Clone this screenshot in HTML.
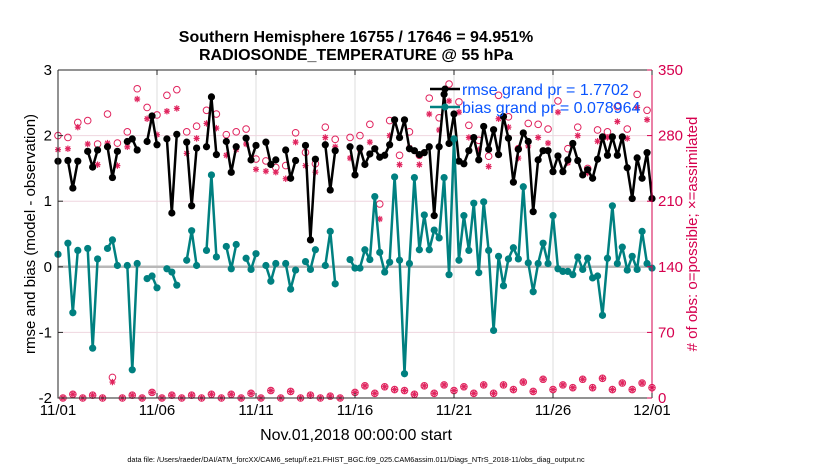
<!DOCTYPE html>
<html><head><meta charset="utf-8"><style>
html,body{margin:0;padding:0;background:#fff;}
svg{display:block;font-family:"Liberation Sans",Arial,sans-serif;}
</style></head><body>
<svg id="chart" width="830" height="470" viewBox="0 0 830 470" xmlns="http://www.w3.org/2000/svg">
<text x="356" y="42" text-anchor="middle" font-size="16" font-weight="bold">Southern Hemisphere 16755 / 17646 = 94.951%</text>
<text x="356" y="60" text-anchor="middle" font-size="16" font-weight="bold">RADIOSONDE_TEMPERATURE @ 55 hPa</text>
<g id="grid"></g>
<g id="marks"></g>
<g id="axes"></g>
<text transform="translate(35,234) rotate(-90)" text-anchor="middle" font-size="15">rmse and bias (model - observation)</text>
<text transform="translate(697,234) rotate(-90)" text-anchor="middle" font-size="15" fill="#d6004e">#  of obs: o=possible; ×=assimilated</text>
<text x="356" y="440" text-anchor="middle" font-size="16">Nov.01,2018 00:00:00 start</text>
<text x="356" y="462" text-anchor="middle" font-size="7.3">data file: /Users/raeder/DAI/ATM_forcXX/CAM6_setup/f.e21.FHIST_BGC.f09_025.CAM6assim.011/Diags_NTrS_2018-11/obs_diag_output.nc</text>
<g>
<line x1="430" y1="89" x2="460" y2="89" stroke="#000" stroke-width="2.5"/>
<circle cx="445" cy="89" r="3.5" fill="#000"/>
<text x="462" y="95" font-size="16" fill="#0a55ff">rmse grand pr = 1.7702</text>
<line x1="430" y1="107" x2="460" y2="107" stroke="#008080" stroke-width="2.5"/>
<circle cx="445" cy="107" r="3.5" fill="#008080"/>
<text x="462" y="113" font-size="16" fill="#0a55ff">bias grand pr = 0.078964</text>
</g>
</svg>
<script>
var xTickLabels = ["11/01","11/06","11/11","11/16","11/21","11/26","12/01"];
var xTickDays = [0,5,10,15,20,25,30];
var leftTicks = [-2,-1,0,1,2,3];
var rightTicks = [0,70,140,210,280,350];
var rmse = [1.61,null,1.62,1.20,1.61,null,1.76,1.52,1.78,null,
1.83,1.36,1.76,null,1.91,1.95,1.78,null,1.91,2.30,
1.86,null,1.95,0.82,2.02,null,1.90,0.93,1.81,null,
1.83,2.59,1.71,null,1.91,1.44,1.83,null,1.96,1.63,
1.85,null,1.90,1.56,1.63,null,1.78,1.35,1.62,null,
1.85,0.41,1.64,null,1.86,1.17,1.77,null,null,1.83,
1.40,1.81,1.56,1.72,1.80,1.67,1.70,1.86,2.24,1.97,
2.24,1.80,1.77,1.71,1.74,1.83,0.78,1.83,2.63,1.88,
2.33,1.61,1.57,1.77,1.97,1.63,2.14,1.79,2.09,1.71,
2.29,1.96,1.29,1.79,2.04,1.91,0.84,1.63,1.77,1.77,
1.45,1.69,1.45,1.63,1.88,1.62,1.40,1.48,1.35,1.64,
1.98,1.70,1.98,1.70,1.98,1.51,1.04,1.66,1.35,1.74,1.04];
var bias = [0.19,null,0.36,-0.70,0.25,null,0.28,-1.24,0.12,null,
0.28,0.41,0.02,null,0.02,-1.57,0.05,null,-0.18,-0.14,
-0.32,null,-0.03,-0.08,-0.28,null,0.10,0.55,0.02,null,
0.25,1.40,0.15,null,0.31,-0.03,0.34,null,0.13,-0.04,
0.20,null,0.02,-0.22,0.05,null,0.05,-0.34,-0.05,null,
0.08,-0.04,0.26,null,0.02,0.54,-0.26,null,null,0.11,
-0.02,-0.02,0.26,0.11,1.07,0.22,-0.08,0.07,1.37,0.10,
-1.63,0.05,1.36,0.26,0.79,0.26,0.56,0.44,1.36,-0.12,
1.95,0.10,0.78,0.25,0.97,-0.09,0.99,0.25,-0.97,0.16,
-0.29,0.12,0.29,0.12,1.22,0.06,-0.38,0.05,0.36,0.05,
0.78,-0.03,-0.07,-0.07,-0.12,0.15,-0.04,0.13,-0.17,-0.14,
-0.74,0.13,0.93,0.05,0.30,-0.05,0.16,-0.04,0.54,0.05,-0.02];
var possible = [280,0,278,4,294,0,296,3,271,0,
303,22,272,0,284,3,330,0,310,6,
302,0,323,3,329,0,284,3,290,0,
307,4,303,0,281,4,284,0,287,5,
255,0,253,8,246,0,248,7,283,0,
262,3,250,0,289,2,276,0,null,278,
6,280,13,292,5,207,12,296,9,259,
8,284,4,259,13,320,5,299,14,335,
8,316,12,291,5,275,14,258,5,323,
14,300,9,266,17,293,7,292,20,287,
9,317,14,266,11,289,20,245,11,286,
21,284,9,311,16,287,9,324,16,307,11];
var assimilated = [265,0,266,4,289,0,271,3,249,0,
272,17,248,0,268,3,319,0,298,6,
281,0,306,3,309,0,261,3,277,0,
293,4,288,0,259,4,265,0,271,5,
244,0,242,8,241,0,234,7,273,0,
248,3,241,0,278,2,268,0,null,256,
6,265,13,273,5,191,12,280,9,249,
8,267,4,249,13,303,5,286,14,317,
8,305,12,278,5,265,14,247,5,298,
14,289,9,256,17,269,7,278,20,272,
9,305,14,251,11,280,20,240,11,274,
21,278,9,295,16,277,9,310,16,297,11];

var NS="http://www.w3.org/2000/svg";
var X0=58,X1=652,YT=70,YB=398;
function xDay(d){return X0+(X1-X0)*d/30;}
function xIdx(i){return xDay(i*0.25);}
function yL(v){return YB-(v+2)/5*(YB-YT);}
function yR(v){return YB-v/350*(YB-YT);}
function mk(tag,attrs,parent){var e=document.createElementNS(NS,tag);for(var k in attrs)e.setAttribute(k,attrs[k]);parent.appendChild(e);return e;}
var grid=document.getElementById('grid'),marks=document.getElementById('marks'),axes=document.getElementById('axes');

for(var i=1;i<xTickDays.length-1;i++){
  var gl=mk('line',{x1:xDay(xTickDays[i]),x2:xDay(xTickDays[i]),y1:YT,y2:YB,stroke:'#dcdcdc','stroke-width':1},grid);
  
  
}
for(var i=1;i<rightTicks.length-1;i++){
  var hl=mk('line',{x1:X0,x2:X1,y1:yR(rightTicks[i]),y2:yR(rightTicks[i]),stroke:'#efd6df','stroke-width':1},grid);
  
  
}
var zl=mk('line',{x1:X0,x2:X1,y1:yL(0),y2:yL(0),stroke:'#b8b8b8','stroke-width':2.5},grid);



function drawSeries(arr,color,name){
  var segs=[],cur=[];
  for(var i=0;i<arr.length;i++){
    if(arr[i]===null){if(cur.length)segs.push(cur);cur=[];}
    else cur.push(xIdx(i).toFixed(1)+','+yL(arr[i]).toFixed(1));
  }
  if(cur.length)segs.push(cur);
  segs.forEach(function(s){
    var pl=mk('polyline',{points:s.join(' '),fill:'none',stroke:color,'stroke-width':2.5,'stroke-linejoin':'round'},marks);
    
    
  });
  for(var i=0;i<arr.length;i++){
    if(arr[i]===null)continue;
    var c=mk('circle',{cx:xIdx(i),cy:yL(arr[i]),r:3.6,fill:color},marks);
    
    
  }
}
for(var i=0;i<possible.length;i++){
  if(possible[i]===null)continue;
  var oc=mk('circle',{cx:xIdx(i),cy:yR(possible[i]),r:3.3,fill:'none',stroke:'#e0245e','stroke-width':1},marks);
  
  
}
for(var i=0;i<assimilated.length;i++){
  if(assimilated[i]===null)continue;
  var cx=xIdx(i),cy=yR(assimilated[i]);
  var g=mk('g',{stroke:'#e0245e','stroke-width':1.2},marks);
  
  
  mk('line',{x1:cx-3,x2:cx+3,y1:cy,y2:cy},g);
  mk('line',{x1:cx,x2:cx,y1:cy-3.2,y2:cy+3.2},g);
  mk('line',{x1:cx-2.3,x2:cx+2.3,y1:cy-2.3,y2:cy+2.3},g);
  mk('line',{x1:cx-2.3,x2:cx+2.3,y1:cy+2.3,y2:cy-2.3},g);
}
drawSeries(rmse,'#000000','rmse');
drawSeries(bias,'#008080','bias');

var fr=mk('path',{d:'M'+X0+','+YT+'V'+YB+'H'+X1,fill:'none',stroke:'#262626','stroke-width':1},axes);


var tf=mk('line',{x1:X0,x2:X1,y1:YT,y2:YT,stroke:'#262626','stroke-width':1},axes);


var ra=mk('line',{x1:X1,x2:X1,y1:YT,y2:YB,stroke:'#d6004e','stroke-width':1},axes);


for(var i=0;i<xTickDays.length;i++){
  var x=xDay(xTickDays[i]);
  mk('line',{x1:x,x2:x,y1:YB,y2:YB-5,stroke:'#262626'},axes);
  mk('line',{x1:x,x2:x,y1:YT,y2:YT+5,stroke:'#262626'},axes);
  var t=mk('text',{x:x,y:YB+17,'text-anchor':'middle','font-size':15},axes);
  t.textContent=xTickLabels[i];
  
  
}
for(var i=0;i<leftTicks.length;i++){
  var y=yL(leftTicks[i]);
  mk('line',{x1:X0,x2:X0+5,y1:y,y2:y,stroke:'#262626'},axes);
  var t=mk('text',{x:X0-6,y:y+5,'text-anchor':'end','font-size':15},axes);
  t.textContent=leftTicks[i];
  
  
}
for(var i=0;i<rightTicks.length;i++){
  var y=yR(rightTicks[i]);
  mk('line',{x1:X1,x2:X1-5,y1:y,y2:y,stroke:'#d6004e'},axes);
  var t=mk('text',{x:X1+6,y:y+5,'text-anchor':'start','font-size':15,fill:'#d6004e'},axes);
  t.textContent=rightTicks[i];
  
  
}
</script>
</body></html>
